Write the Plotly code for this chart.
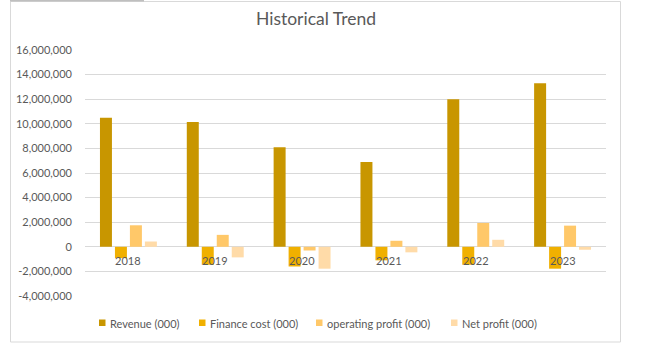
import plotly.graph_objects as go

years = ["2018", "2019", "2020", "2021", "2022", "2023"]
revenue = [10500000, 10150000, 8100000, 6900000, 12000000, 13300000]
finance_cost = [-920000, -1460000, -1600000, -1100000, -1460000, -1780000]
operating_profit = [1750000, 970000, -300000, 490000, 1940000, 1720000]
net_profit = [430000, -860000, -1780000, -450000, 570000, -240000]

series_names = ["Revenue (000)", "Finance cost (000)", "operating profit (000)", "Net profit (000)"]
series_colors = ["#C89600", "#F0B000", "#FFC869", "#FFDBA8"]

tick_vals = [-4000000, -2000000, 0, 2000000, 4000000, 6000000, 8000000, 10000000, 12000000, 14000000, 16000000]
tick_text = ["-4,000,000", "-2,000,000", "0", "2,000,000", "4,000,000", "6,000,000",
             "8,000,000", "10,000,000", "12,000,000", "14,000,000", "16,000,000"]

W, H = 653, 359
L, R, T, B = 85, 606, 50, 296  # plot area in pixels
pw, ph = R - L, B - T

def px_x(x):
    return (x - L) / pw

def px_y(y):
    return (B - y) / ph

font_fam = "Lato, Carlito, Calibri, sans-serif"
txt_col = "#595959"

fig = go.Figure()
for name, vals, col in zip(series_names, [revenue, finance_cost, operating_profit, net_profit], series_colors):
    fig.add_trace(go.Bar(x=years, y=vals, name=name, marker=dict(color=col, line=dict(width=0)),
                         showlegend=False))

for i, yr in enumerate(years):
    fig.add_annotation(x=i, y=0, text=yr, showarrow=False, yanchor="top", yshift=-5,
                       font=dict(family=font_fam, size=11, color=txt_col))

# legend (manual, Excel-style small squares)
legend_x = [99, 199, 316, 451]  # pixel start of each legend entry
legend_y = 323
for lx, name, col in zip(legend_x, series_names, series_colors):
    fig.add_shape(type="rect", xref="paper", yref="paper",
                  x0=px_x(lx), x1=px_x(lx + 6.5), y0=px_y(legend_y + 3), y1=px_y(legend_y - 3.5),
                  line=dict(width=0), fillcolor=col)
    fig.add_annotation(xref="paper", yref="paper", x=px_x(lx + 8.5), y=px_y(legend_y),
                       xanchor="left", yanchor="middle", text=name, showarrow=False,
                       font=dict(family=font_fam, size=11, color=txt_col))

# chart border
fig.add_shape(type="rect", xref="paper", yref="paper",
              x0=px_x(10.5), x1=px_x(620.5), y0=px_y(342), y1=px_y(1.5),
              line=dict(color="#D9D9D9", width=1), fillcolor="rgba(0,0,0,0)", layer="below")
fig.add_shape(type="line", xref="paper", yref="paper",
              x0=px_x(10), x1=px_x(144), y0=px_y(0.7), y1=px_y(0.7),
              line=dict(color="#BFBFBF", width=1.5))

fig.update_layout(
    width=W, height=H,
    margin=dict(l=L, r=W - R, t=T, b=H - B, pad=0),
    paper_bgcolor="white", plot_bgcolor="white",
    barmode="group", bargap=0.31, bargroupgap=0.2,
    showlegend=False,
    title=dict(text="Historical Trend", x=316 / W, xanchor="center", y=1 - 19 / H, yanchor="middle",
               font=dict(family=font_fam, size=17.5, color=txt_col)),
    font=dict(family=font_fam, size=11, color=txt_col),
    xaxis=dict(type="category", categoryorder="array", categoryarray=years,
               range=[-0.5, len(years) - 0.5], autorange=False,
               showticklabels=False, showgrid=False, zeroline=False, showline=False, ticks=""),
    yaxis=dict(range=[-4000000, 16000000], tickvals=tick_vals, ticktext=tick_text,
               showgrid=True, gridcolor="#D9D9D9", gridwidth=1, zeroline=True,
               zerolinecolor="#D9D9D9", zerolinewidth=1, showline=False, ticks="",
               ticklabelstandoff=12, tickfont=dict(family=font_fam, size=11, color=txt_col)),
)

fig.write_html("out.html", post_script="document.body.style.margin='0';",
               config={"displayModeBar": False})
